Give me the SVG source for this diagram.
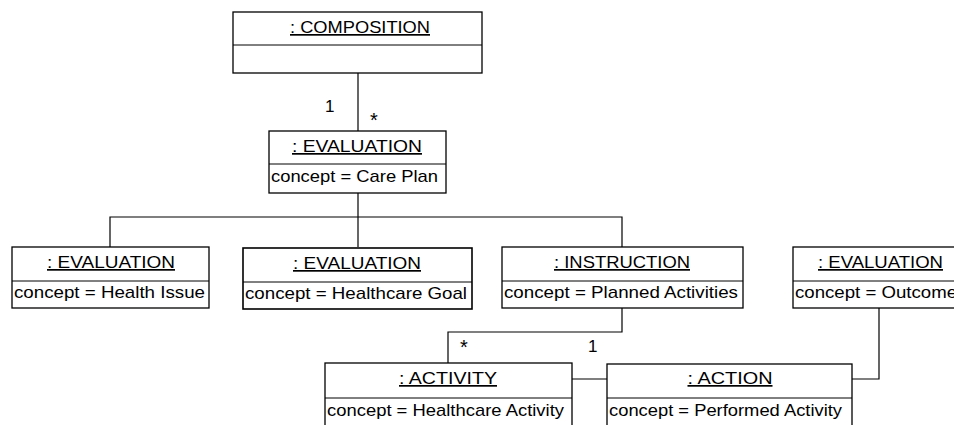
<svg xmlns="http://www.w3.org/2000/svg" width="954" height="425" viewBox="0 0 954 425">
<style>
.box{fill:#fff;stroke:#000;stroke-width:1.3}
.div{stroke:#000;stroke-width:1}
.t{font-family:"Liberation Sans",Arial,sans-serif;font-size:17px;fill:#000}
.u{text-decoration:underline}
.s{font-size:20px}
.c{fill:none;stroke:#000;stroke-width:1.2}
</style>
<rect width="954" height="425" fill="#fff"/>
<g id="connectors">
<polyline class="c" points="358,73 358,131"/>
<polyline class="c" points="358,193 358,247"/>
<polyline class="c" points="110,247 110,217 622,217 622,247"/>
<polyline class="c" points="622,308 622,332 448,332 448,363"/>
<polyline class="c" points="572,379 607,379"/>
<polyline class="c" points="852,379 879,379 879,308"/>
<text class="t" x="325" y="112">1</text>
<text class="t s" x="370" y="127">*</text>
<text class="t s" x="460" y="354">*</text>
<text class="t" x="588" y="352">1</text>
</g>
<g id="composition">
<rect class="box" x="233" y="12" width="249" height="61"/>
<line class="div" x1="233" y1="45" x2="482" y2="45"/>
<text class="t u" x="360" y="33" text-anchor="middle" textLength="140" lengthAdjust="spacingAndGlyphs">: COMPOSITION</text>
</g>
<g id="eval-careplan">
<rect class="box" x="269" y="131" width="177" height="62"/>
<line class="div" x1="269" y1="164" x2="446" y2="164"/>
<text class="t u" x="357" y="152" text-anchor="middle" textLength="130" lengthAdjust="spacingAndGlyphs">: EVALUATION</text>
<text class="t" x="271" y="182" textLength="167" lengthAdjust="spacingAndGlyphs">concept = Care Plan</text>
</g>
<g id="eval-health-issue">
<rect class="box" x="12" y="247" width="197" height="61"/>
<line class="div" x1="12" y1="281" x2="209" y2="281"/>
<text class="t u" x="111" y="268" text-anchor="middle" textLength="128" lengthAdjust="spacingAndGlyphs">: EVALUATION</text>
<text class="t" x="14" y="298" textLength="191" lengthAdjust="spacingAndGlyphs">concept = Health Issue</text>
</g>
<g id="eval-healthcare-goal">
<rect class="box" x="243" y="248" width="229" height="61" style="stroke-width:1.6"/>
<line class="div" x1="243" y1="282" x2="472" y2="282"/>
<text class="t u" x="357" y="269" text-anchor="middle" textLength="128" lengthAdjust="spacingAndGlyphs">: EVALUATION</text>
<text class="t" x="245" y="299" textLength="222" lengthAdjust="spacingAndGlyphs">concept = Healthcare Goal</text>
</g>
<g id="instruction">
<rect class="box" x="502" y="247" width="241" height="61"/>
<line class="div" x1="502" y1="281" x2="743" y2="281"/>
<text class="t u" x="622" y="268" text-anchor="middle" textLength="136" lengthAdjust="spacingAndGlyphs">: INSTRUCTION</text>
<text class="t" x="504" y="298" textLength="234" lengthAdjust="spacingAndGlyphs">concept = Planned Activities</text>
</g>
<g id="eval-outcome">
<rect class="box" x="793" y="247" width="180" height="61"/>
<line class="div" x1="793" y1="281" x2="973" y2="281"/>
<text class="t u" x="818" y="268" textLength="125" lengthAdjust="spacingAndGlyphs">: EVALUATION</text>
<text class="t" x="795" y="298" textLength="162" lengthAdjust="spacingAndGlyphs">concept = Outcome</text>
</g>
<g id="activity">
<rect class="box" x="325" y="363" width="247" height="70"/>
<line class="div" x1="325" y1="398" x2="572" y2="398"/>
<text class="t u" x="448" y="384" text-anchor="middle" textLength="98" lengthAdjust="spacingAndGlyphs">: ACTIVITY</text>
<text class="t" x="327" y="416" textLength="237" lengthAdjust="spacingAndGlyphs">concept = Healthcare Activity</text>
</g>
<g id="action">
<rect class="box" x="607" y="364" width="245" height="70"/>
<line class="div" x1="607" y1="398" x2="852" y2="398"/>
<text class="t u" x="730" y="384" text-anchor="middle" textLength="85" lengthAdjust="spacingAndGlyphs">: ACTION</text>
<text class="t" x="609" y="416" textLength="233" lengthAdjust="spacingAndGlyphs">concept = Performed Activity</text>
</g>
</svg>
